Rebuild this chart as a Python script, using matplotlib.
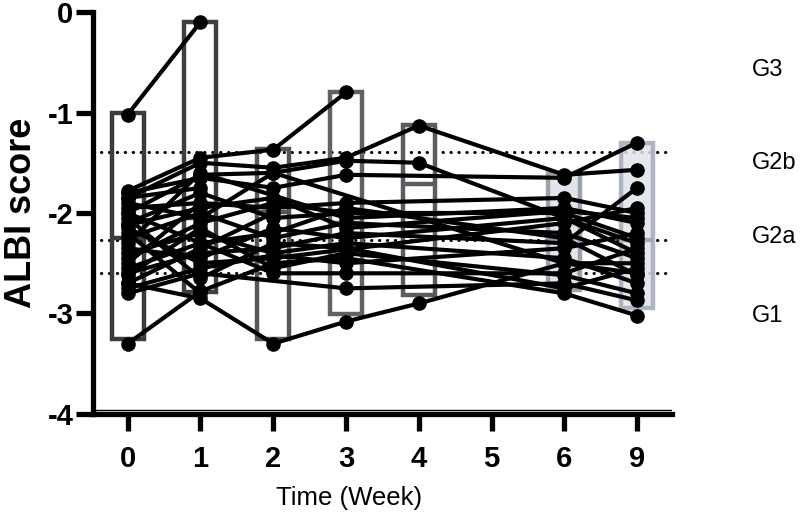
import matplotlib
matplotlib.use("Agg")
import matplotlib.pyplot as plt
import numpy as np

plt.rcParams['font.family'] = ['Liberation Sans', 'DejaVu Sans']

# Weeks shown as equally spaced categories
weeks = ["0", "1", "2", "3", "4", "5", "6", "9"]

# ALBI score per subject at weeks 0, 1, 2, 3, 4, 5, 6, 9 (nan = not measured)
nan = np.nan
subjects = [
    [-1.02, -0.10, nan, nan, nan, nan, nan, nan],
    [-1.78, -1.45, -1.37, -0.80, nan, nan, nan, nan],
    [-1.85, -1.50, -1.55, -1.45, -1.13, nan, -1.62, -1.57],
    [-2.00, -1.62, -1.60, -1.48, -1.50, nan, -2.05, -2.30],
    [-2.70, -2.85, -3.30, -3.08, -2.90, nan, -2.50, -2.60],
    [-3.30, -2.78, -2.50, -2.45, nan, nan, -2.80, -3.02],
    [-1.80, -1.65, -1.75, -1.62, nan, nan, -1.65, -1.30],
    [-1.95, -1.90, -1.95, -1.90, nan, nan, -1.85, -2.00],
    [-2.10, -1.80, -2.05, -2.00, nan, nan, -2.00, -2.25],
    [-2.25, -2.00, -2.25, -2.10, nan, nan, -2.20, -2.45],
    [-2.40, -2.20, -2.40, -2.30, nan, nan, -2.45, -2.70],
    [-2.55, -2.30, -2.60, -2.60, nan, nan, -2.60, -2.35],
    [-2.80, -2.60, nan, -2.75, nan, nan, -2.70, -2.87],
    [-2.60, -2.40, -2.35, -2.20, nan, nan, -2.30, -1.75],
    [-2.15, -2.50, -2.45, nan, nan, nan, -2.10, -1.95],
    [-2.30, -1.60, nan, -2.05, nan, nan, -1.95, -2.10],
    [-1.90, -2.05, -1.60, nan, nan, nan, -2.50, -2.50],
    [-2.05, -2.65, -2.30, -2.35, nan, nan, -2.75, -2.55],
    [-2.50, -1.90, nan, nan, nan, nan, nan, nan],
    [-2.70, -2.35, -2.00, nan, nan, nan, nan, nan],
    [-2.20, -2.80, nan, nan, nan, nan, nan, nan],
    [-2.45, -2.10, -1.90, -2.00, nan, nan, nan, nan],
    [-1.85, -1.75, nan, nan, nan, nan, nan, nan],
    [-2.35, -2.45, -2.15, -2.25, nan, nan, -2.05, -2.40],
    [-2.75, -2.55, -2.42, -2.50, nan, nan, -2.35, -2.20],
    [-2.00, -2.30, -2.20, -1.95, nan, nan, -2.25, -2.62],
    [-2.62, -2.15, -2.55, -2.40, nan, nan, -2.62, -2.80],
    [-2.12, -1.95, -1.85, -2.15, nan, nan, -1.98, -2.05],
]

# Floating bars (range) and centre line per week
bar_high = [-1.00, -0.10, -1.36, -0.80, -1.12, nan, -1.60, -1.30]
bar_low = [-3.25, -2.79, -3.25, -3.01, -2.82, nan, -2.77, -2.95]
bar_mid = [-2.25, -2.05, -1.99, -2.10, -1.71, nan, -2.25, -2.27]
bar_edge = ['#3b3b40', '#3f4045', '#56575d', '#606268', '#5b5c62', '#ffffff', '#8d939f', '#a3aab7']
bar_fill = ['none', 'none', 'none', 'none', 'none', 'none', '#dde1e9', '#dfe3eb']

# ALBI grade cut-offs and labels
cutoffs = [-1.39, -2.27, -2.60]
grades = ["G3", "G2b", "G2a", "G1"]
grade_y = [-0.58, -1.50, -2.24, -3.02]

fig = plt.figure(figsize=(8, 5.18), dpi=100)
ax = fig.add_axes([0.116, 0.2008, 0.724, 0.776])

x = np.arange(len(weeks))

for c in cutoffs:
    ax.axhline(c, color='black', lw=2.2, linestyle=(0, (0.1, 2.5)),
               dash_capstyle='round', zorder=1)

for i in range(len(weeks)):
    if np.isnan(bar_high[i]):
        continue
    ax.bar(x[i], bar_high[i] - bar_low[i], bottom=bar_low[i], width=0.44,
           facecolor=bar_fill[i], edgecolor=bar_edge[i], linewidth=3.2,
           alpha=0.85 if bar_fill[i] != 'none' else 1, zorder=2)
    ax.plot([x[i] - 0.22, x[i] + 0.22], [bar_mid[i], bar_mid[i]],
            color=bar_edge[i], lw=3.2, zorder=2, solid_capstyle='butt')

for s in subjects:
    s = np.array(s)
    ok = ~np.isnan(s)
    ax.plot(x[ok], s[ok], color='black', lw=3, marker='o', markersize=9.5,
            zorder=3)

for g, gy in zip(grades, grade_y):
    ax.text(8.58, gy, g, fontsize=17, va='center', ha='left', clip_on=False)

# Prism style double base line
ax.axhline(-3.965, color='black', lw=1, zorder=4)

ax.set_xlim(-0.48, 7.48)
ax.set_ylim(-4, 0)
ax.set_xticks(x)
ax.set_xticklabels(weeks)
ax.set_yticks([0, -1, -2, -3, -4])
ax.set_yticklabels(["0", "-1", "-2", "-3", "-4"])
for lab in ax.get_xticklabels() + ax.get_yticklabels():
    lab.set_fontweight('bold')
    lab.set_fontsize(21)
ax.tick_params(axis='both', direction='out', width=3.8, length=12)
ax.tick_params(axis='x', pad=10)
ax.tick_params(axis='y', pad=2)

ax.spines['top'].set_visible(False)
ax.spines['right'].set_visible(False)
ax.spines['left'].set_linewidth(3.8)
ax.spines['bottom'].set_linewidth(3.8)

ax.set_ylabel("ALBI score", fontsize=26, fontweight='bold', labelpad=6)
ax.set_xlabel("Time (Week)", fontsize=18.5)
ax.xaxis.set_label_coords(0.443, -0.18)

fig.savefig("out.png", dpi=100)
